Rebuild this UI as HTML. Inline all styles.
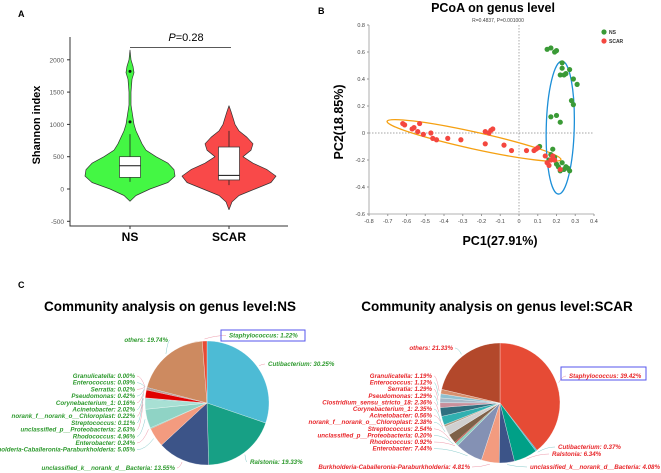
<!DOCTYPE html>
<html><head><meta charset="utf-8"><style>
body{margin:0;background:#fff}
svg{display:block;font-family:"Liberation Sans",Arial,sans-serif}
</style></head><body>
<svg id="fig" width="661" height="473" viewBox="0 0 661 473" xmlns="http://www.w3.org/2000/svg">
<text x="18" y="17" font-size="9" font-weight="bold">A</text>
<text x="318" y="14" font-size="9" font-weight="bold">B</text>
<text x="18" y="288" font-size="9" font-weight="bold">C</text>
<g id="pa"></g>
<g id="pb"></g>
<g id="pc"></g>
</svg>
<script>
// ---- Panel A data ----
const violinGroups=["NS","SCAR"];
const nsDensV=[-190,-100,0,100,200,300,400,500,600,700,800,900,1000,1100,1200,1300,1500,1700,1800,1900,2000,2150];
const nsDensW=[0,6,20,38,45,44,38,26,16,12,9,6,4,3,2,1,1,2,4,3,1,0];
const scDensV=[-320,-200,-100,0,100,200,300,400,500,600,700,800,900,1000,1100,1200,1290];
const scDensW=[0,3,10,26,42,47,38,24,14,22,24,18,10,6,4,2,0];
const nsBox=[110,180,360,500,850];
const scBox=[60,140,210,650,900];
const nsOutliers=[1040,1820];
const yTicksA=[-500,0,500,1000,1500,2000];
const pText="0.28";
// ---- Panel B data ----
const nsPts=[[0.15,0.62],[0.17,0.63],[0.19,0.60],[0.20,0.61],[0.23,0.52],[0.23,0.48],[0.22,0.43],[0.24,0.43],[0.25,0.44],[0.27,0.47],[0.29,0.40],[0.31,0.36],[0.28,0.24],[0.29,0.21],[0.17,0.12],[0.20,0.13],[0.22,0.08],[0.11,-0.10],[0.18,-0.12],[0.17,-0.16],[0.19,-0.18],[0.16,-0.20],[0.20,-0.23],[0.21,-0.25],[0.23,-0.22],[0.25,-0.25],[0.26,-0.26],[0.27,-0.28],[0.22,-0.28],[0.24,-0.27]];
const scarPts=[[-0.61,0.06],[-0.62,0.07],[-0.57,0.03],[-0.56,0.04],[-0.53,0.07],[-0.54,0.01],[-0.51,-0.01],[-0.47,0],[-0.46,-0.04],[-0.44,-0.05],[-0.38,-0.04],[-0.31,-0.05],[-0.18,0.01],[-0.16,0],[-0.15,0.02],[-0.14,0.03],[-0.18,-0.08],[-0.08,-0.09],[-0.04,-0.13],[0.04,-0.13],[0.08,-0.13],[0.09,-0.12],[0.10,-0.11],[0.14,-0.17],[0.15,-0.22],[0.16,-0.24],[0.17,-0.20],[0.18,-0.17],[0.19,-0.20],[0.22,-0.27]];
const xTicksB=[-0.8,-0.7,-0.6,-0.5,-0.4,-0.3,-0.2,-0.1,0,0.1,0.2,0.3,0.4];
const yTicksB=[-0.6,-0.4,-0.2,0,0.2,0.4,0.6,0.8];
// ---- Panel C data ----
const nsNames=["Cutibacterium","Ralstonia","unclassified_k__norank_d__Bacteria","Burkholderia-Caballeronia-Paraburkholderia","Enterobacter","Rhodococcus","unclassified_p__Proteobacteria","Streptococcus","norank_f__norank_o__Chloroplast","Acinetobacter","Corynebacterium_1","Pseudomonas","Serratia","Enterococcus","Granulicatella","others","Staphylococcus"];
const nsVals=[30.25,19.33,13.55,5.05,0.24,4.96,2.63,0.11,0.22,2.02,0.16,0.42,0.02,0.09,0.00,19.74,1.22];
const scNames=["Staphylococcus","Cutibacterium","Ralstonia","unclassified_k__norank_d__Bacteria","Burkholderia-Caballeronia-Paraburkholderia","Enterobacter","Rhodococcus","unclassified_p__Proteobacteria","Streptococcus","norank_f__norank_o__Chloroplast","Acinetobacter","Corynebacterium_1","Clostridium_sensu_stricto_18","Pseudomonas","Serratia","Enterococcus","Granulicatella","others"];
const scVals=[39.42,0.37,6.34,4.08,4.81,7.44,0.92,0.20,2.54,2.38,0.56,2.35,2.36,1.29,1.29,1.12,1.19,21.33];

const NS="http://www.w3.org/2000/svg";
function mk(p,tag,at,txt){const e=document.createElementNS(NS,tag);for(const k in at)e.setAttribute(k,at[k]);if(txt!==undefined)e.textContent=txt;p.appendChild(e);return e;}

// ===== Panel A =====
(function(){
const g=document.getElementById('pa');
const yA=v=>189-v*0.0646;
const xA={NS:130,SCAR:229};
const ax=mk(g,'path',{d:'M70 37V226H288',fill:'none',stroke:'#333','stroke-width':1});

yTicksA.forEach(t=>{
 const l=mk(g,'line',{x1:67,x2:70,y1:yA(t),y2:yA(t),stroke:'#333'});
 
 const tx=mk(g,'text',{x:64,y:yA(t)+2.5,'font-size':6.5,fill:'#555','text-anchor':'end'},String(t));
 
});
const yt=mk(g,'text',{x:0,y:0,'font-size':11,'font-weight':'bold','text-anchor':'middle',transform:'translate(40,125) rotate(-90)'},'Shannon index');

function violin(name,vs,ws,col){
 const cx=xA[name];let d='';
 vs.forEach((v,i)=>{d+=(i?'L':'M')+(cx+ws[i]).toFixed(1)+' '+yA(v).toFixed(1);});
 for(let i=vs.length-1;i>=0;i--)d+='L'+(cx-ws[i]).toFixed(1)+' '+yA(vs[i]).toFixed(1);
 const p=mk(g,'path',{d:d+'Z',fill:col,stroke:'#333','stroke-width':0.7,'stroke-linejoin':'round'});
 
}
function box(name,b){
 const cx=xA[name];
 const w=mk(g,'line',{x1:cx,x2:cx,y1:yA(b[0]),y2:yA(b[4]),stroke:'#222','stroke-width':0.8});
 
 const r=mk(g,'rect',{x:cx-10.5,y:yA(b[3]),width:21,height:yA(b[1])-yA(b[3]),fill:'#fff',stroke:'#333','stroke-width':0.7});
 
 const m=mk(g,'line',{x1:cx-10.5,x2:cx+10.5,y1:yA(b[2]),y2:yA(b[2]),stroke:'#111','stroke-width':1});
 
}
violin('NS',nsDensV,nsDensW,'#44f744');
violin('SCAR',scDensV,scDensW,'#f94949');
box('NS',nsBox);box('SCAR',scBox);
nsOutliers.forEach(v=>{const c=mk(g,'circle',{cx:xA.NS,cy:yA(v),r:1.5,fill:'#111'});
 });
violinGroups.forEach(n=>{
 const t=mk(g,'line',{x1:xA[n],x2:xA[n],y1:226,y2:229,stroke:'#333'});
 
 const l=mk(g,'text',{x:xA[n],y:241,'font-size':12,'font-weight':'bold','text-anchor':'middle'},n);
 
});
const sl=mk(g,'line',{x1:xA.NS,x2:xA.SCAR+2,y1:47.5,y2:47.5,stroke:'#222','stroke-width':0.8});

const pt=mk(g,'text',{x:186,y:41,'font-size':11,'text-anchor':'middle'});

mk(pt,'tspan',{'font-style':'italic'},'P');mk(pt,'tspan',{},'='+pText);
})();

// ===== Panel B =====
(function(){
const g=document.getElementById('pb');
const xB=v=>519+v*187.5, yB=v=>133-v*135;
const t=mk(g,'text',{x:493,y:12,'font-size':12.5,'font-weight':'bold','text-anchor':'middle'},'PCoA on genus level');

const st=mk(g,'text',{x:498,y:22,'font-size':5,fill:'#444','text-anchor':'middle'},'R=0.4837, P=0.001000');

const ax=mk(g,'path',{d:`M${xB(-0.8)} ${yB(0.8)}V${yB(-0.6)}H${xB(0.4)}`,fill:'none',stroke:'#999','stroke-width':0.8});

const z1=mk(g,'line',{x1:xB(0),x2:xB(0),y1:yB(0.8),y2:yB(-0.6),stroke:'#888','stroke-dasharray':'1.5,1.5','stroke-width':0.7});

const z2=mk(g,'line',{x1:xB(-0.8),x2:xB(0.4),y1:yB(0),y2:yB(0),stroke:'#888','stroke-dasharray':'1.5,1.5','stroke-width':0.7});

xTicksB.forEach(v=>{
 const l=mk(g,'line',{x1:xB(v),x2:xB(v),y1:yB(-0.6),y2:yB(-0.6)+2,stroke:'#999'});
 
 const s=mk(g,'text',{x:xB(v),y:yB(-0.6)+9,'font-size':5.5,fill:'#444','text-anchor':'middle'},String(v));
 
});
yTicksB.forEach(v=>{
 const l=mk(g,'line',{x1:xB(-0.8)-2,x2:xB(-0.8),y1:yB(v),y2:yB(v),stroke:'#999'});
 
 const s=mk(g,'text',{x:xB(-0.8)-4,y:yB(v)+2,'font-size':5.5,fill:'#444','text-anchor':'end'},String(v));
 
});
const xl=mk(g,'text',{x:500,y:245,'font-size':12.5,'font-weight':'bold','text-anchor':'middle'},'PC1(27.91%)');

const yl=mk(g,'text',{x:0,y:0,'font-size':12.5,'font-weight':'bold','text-anchor':'middle',transform:'translate(343,122) rotate(-90)'},'PC2(18.85%)');

const e1=mk(g,'ellipse',{cx:xB(-0.24),cy:yB(-0.055),rx:89,ry:8.5,fill:'none',stroke:'#f5a011','stroke-width':1.3,transform:`rotate(12.4 ${xB(-0.24)} ${yB(-0.055)})`});

const e2=mk(g,'ellipse',{cx:xB(0.22),cy:yB(0.04),rx:14,ry:66.5,fill:'none',stroke:'#1c8fd8','stroke-width':1.3,transform:`rotate(1.5 ${xB(0.22)} ${yB(0.04)})`});

nsPts.forEach(p=>{const c=mk(g,'circle',{cx:xB(p[0]),cy:yB(p[1]),r:2.6,fill:'#3a9a36'});
 });
scarPts.forEach(p=>{const c=mk(g,'circle',{cx:xB(p[0]),cy:yB(p[1]),r:2.6,fill:'#f4473f'});
 });
[['NS','#3a9a36',32],['SCAR','#f4473f',41]].forEach(a=>{
 const c=mk(g,'circle',{cx:604,cy:a[2],r:2.6,fill:a[1]});
 
 const s=mk(g,'text',{x:609,y:a[2]+2,'font-size':5,'font-weight':'bold',fill:'#333'},a[0]);
 
});
})();

// ===== Panel C =====
(function(){
const g=document.getElementById('pc');
const nsCols=['#4dbbd5','#17a085','#3c5488','#f39b7f','#91d1c2','#8fd3c5','#a8e0d4','#5ab8c4','#c5e4e0','#e00000','#d0a0a0','#c09a90','#a07070','#2a8ab0','#999','#cd8a60','#e64b35'];
const scCols=['#e64b35','#4dbbd5','#00a087','#3c5488','#f39b7f','#8491b4','#91d1c2','#dc0000','#7e6148','#d0d0d0','#b09c85','#30b0b0','#2f6f7f','#c8909c','#a5b8c8','#8fc0d0','#d8906e','#b3482b'];
function pie(cx,cy,r,names,vals,cols,key){
 const tot=vals.reduce((a,b)=>a+b,0);let a0=0;const mids=[];
 vals.forEach((v,i)=>{
  const a1=a0+v/tot*2*Math.PI;
  const p=(a)=>[cx+r*Math.sin(a),cy-r*Math.cos(a)];
  const s=p(a0),e=p(a1);
  const d=`M${cx} ${cy}L${s[0].toFixed(2)} ${s[1].toFixed(2)}A${r} ${r} 0 ${a1-a0>Math.PI?1:0} 1 ${e[0].toFixed(2)} ${e[1].toFixed(2)}Z`;
  const sl=mk(g,'path',{d:d,fill:cols[i],stroke:'#fff','stroke-width':v>0.5?0.3:0});
  
  mids.push((a0+a1)/2);a0=a1;
 });
 return mids;
}
const nsMid=pie(207,403,62,nsNames,nsVals,nsCols,'ns');
const scMid=pie(500,403,60,scNames,scVals,scCols,'scar');
const t1=mk(g,'text',{x:170,y:311,'font-size':13.5,'font-weight':'bold','text-anchor':'middle'},'Community analysis on genus level:NS');

const t2=mk(g,'text',{x:497,y:311,'font-size':13.5,'font-weight':'bold','text-anchor':'middle'},'Community analysis on genus level:SCAR');

// label layout: [name index, x, y, anchor]
const nsLay={"Granulicatella":[135,378,'end'],"Enterococcus":[135,384.7,'end'],"Serratia":[135,391.4,'end'],"Pseudomonas":[135,398.1,'end'],"Corynebacterium_1":[135,404.8,'end'],"Acinetobacter":[135,411.5,'end'],"norank_f__norank_o__Chloroplast":[135,418.2,'end'],"Streptococcus":[135,424.9,'end'],"unclassified_p__Proteobacteria":[135,431.6,'end'],"Rhodococcus":[135,438.3,'end'],"Enterobacter":[135,445,'end'],"Burkholderia-Caballeronia-Paraburkholderia":[135,451.7,'end'],"unclassified_k__norank_d__Bacteria":[175,470,'end'],"others":[168,342,'end'],"Staphylococcus":[229,337.5,'start'],"Cutibacterium":[268,366,'start'],"Ralstonia":[250,464,'start']};
const scLay={"Granulicatella":[432,378,'end'],"Enterococcus":[432,384.6,'end'],"Serratia":[432,391.2,'end'],"Pseudomonas":[432,397.8,'end'],"Clostridium_sensu_stricto_18":[432,404.4,'end'],"Corynebacterium_1":[432,411,'end'],"Acinetobacter":[432,417.6,'end'],"norank_f__norank_o__Chloroplast":[432,424.2,'end'],"Streptococcus":[432,430.8,'end'],"unclassified_p__Proteobacteria":[432,437.4,'end'],"Rhodococcus":[432,444,'end'],"Enterobacter":[432,450.6,'end'],"Burkholderia-Caballeronia-Paraburkholderia":[470,469,'end'],"others":[453,350,'end'],"Staphylococcus":[569,378,'start'],"Cutibacterium":[558,449,'start'],"Ralstonia":[552,456,'start'],"unclassified_k__norank_d__Bacteria":[530,469,'start']};
function labels(names,vals,mids,lay,cx,cy,r,col,key){
 names.forEach((n,i)=>{
  const L=lay[n];if(!L)return;
  const tx=mk(g,'text',{x:L[0],y:L[1],'font-size':6.2,'font-weight':'bold','font-style':'italic',fill:col,'text-anchor':L[2]},n+': '+vals[i].toFixed(2)+'%');
  
  const px=cx+(r+2)*Math.sin(mids[i]),py=cy-(r+2)*Math.cos(mids[i]);
  const sx=L[2]==='end'?L[0]+2:L[0]-3;
  const ln=mk(g,'path',{d:`M${sx} ${L[1]-2}Q${(sx+px)/2} ${L[1]-2} ${px.toFixed(1)} ${py.toFixed(1)}`,fill:'none',stroke:i%2?'#8cc':'#e9a',"stroke-width":0.5});
  
 });
}
labels(nsNames,nsVals,nsMid,nsLay,207,403,62,'#2e9a2e','ns');
labels(scNames,scVals,scMid,scLay,500,403,60,'#e8262a','scar');
const b1=mk(g,'rect',{x:221,y:330,width:84,height:11,fill:'none',stroke:'#5555ee','stroke-width':1});

const b2=mk(g,'rect',{x:561,y:367,width:85,height:13,fill:'none',stroke:'#5555ee','stroke-width':1});

})();
</script>
</body></html>
